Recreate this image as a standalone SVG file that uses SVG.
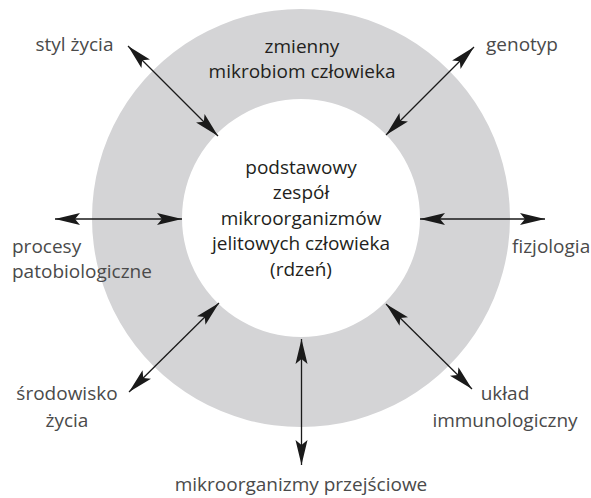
<svg xmlns="http://www.w3.org/2000/svg" width="591" height="498" viewBox="0 0 591 498">
<style>
.lbl{font-family:"Open Sans","Noto Sans","Liberation Sans",sans-serif;font-size:19px;fill:#4a4a4a;text-anchor:middle}
.core{font-family:"Open Sans","Noto Sans","Liberation Sans",sans-serif;font-size:19px;fill:#231f20;text-anchor:middle}
.arr{stroke:#1a1a1a;stroke-width:1.3;fill:none;marker-start:url(#ah);marker-end:url(#ah)}
</style>
<defs>
<marker id="ah" viewBox="-26 -7 27 14" markerWidth="27" markerHeight="14" refX="0" refY="0" markerUnits="userSpaceOnUse" orient="auto-start-reverse">
<path d="M0,0 L-25,-6 L-20,0 L-25,6 Z" fill="#1a1a1a"/>
</marker>
</defs>
<g id="ring">
<path d="M301,9 A209,209 0 1,1 300.99,9 Z M301,99 A119,119 0 1,0 301.01,99 Z" fill="#d4d4d6" fill-rule="evenodd"/>
<text class="core" x="302" y="53">zmienny</text>
<text class="core" x="302" y="78">mikrobiom człowieka</text>
</g>
<g id="core">
<text class="core" x="301" y="173.5">podstawowy</text>
<text class="core" x="301" y="199">zespół</text>
<text class="core" x="301" y="224.5">mikroorganizmów</text>
<text class="core" x="301" y="250">jelitowych człowieka</text>
<text class="core" x="301" y="275.5">(rdzeń)</text>
</g>
<g id="connectors">
<line class="arr" x1="128" y1="46" x2="218" y2="136"/>
<line class="arr" x1="474" y1="47" x2="386" y2="135"/>
<line class="arr" x1="55" y1="219" x2="182" y2="219"/>
<line class="arr" x1="545" y1="219" x2="420" y2="219"/>
<line class="arr" x1="129" y1="392" x2="219" y2="303"/>
<line class="arr" x1="472" y1="389" x2="386" y2="304"/>
<line class="arr" x1="301.5" y1="465" x2="301.5" y2="339"/>
</g>
<g id="styl"><text class="lbl" x="74.5" y="51">styl życia</text></g>
<g id="genotyp"><text class="lbl" x="522" y="51">genotyp</text></g>
<g id="procesy">
<text class="lbl" x="12" y="253" style="text-anchor:start">procesy</text>
<text class="lbl" x="12" y="278" style="text-anchor:start">patobiologiczne</text>
</g>
<g id="fizjologia"><text class="lbl" x="512" y="253" style="text-anchor:start">fizjologia</text></g>
<g id="srodowisko">
<text class="lbl" x="67" y="400">środowisko</text>
<text class="lbl" x="67" y="426.5">życia</text>
</g>
<g id="uklad">
<text class="lbl" x="505" y="400">układ</text>
<text class="lbl" x="505" y="426.5">immunologiczny</text>
</g>
<g id="przejsciowe"><text class="lbl" x="301" y="491">mikroorganizmy przejściowe</text></g>
</svg>
